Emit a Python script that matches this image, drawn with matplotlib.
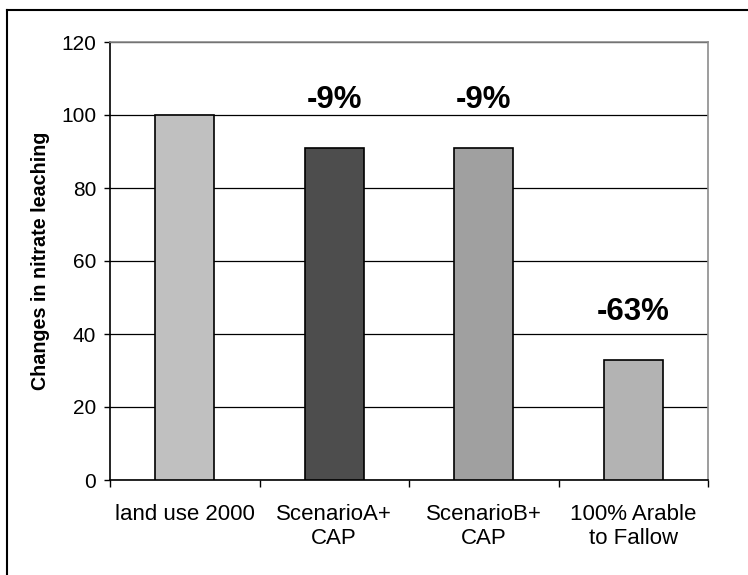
import matplotlib
matplotlib.use('Agg')
import matplotlib.pyplot as plt
from matplotlib.lines import Line2D

# данные
kategorii = ['land use 2000', 'ScenarioA+\nCAP', 'ScenarioB+\nCAP', '100% Arable\nto Fallow']
znach = [100, 91, 91, 33]
procent = ['', '-9%', '-9%', '-63%']
cveta = ['#c0c0c0', '#4d4d4d', '#a0a0a0', '#b3b3b3']
y_ticks = [0, 20, 40, 60, 80, 100, 120]

plt.rcParams['font.family'] = ['Liberation Sans', 'DejaVu Sans']

fig = plt.figure(figsize=(7.48, 5.75), dpi=100)
ax = fig.add_axes([110 / 748, 1 - 480 / 575, 598 / 748, 438 / 575])

x = range(len(kategorii))
ax.bar(x, znach, width=0.395, color=cveta, edgecolor='black', linewidth=1.2, zorder=3)

for i in x:
    if procent[i]:
        ax.text(i, znach[i] + 9, procent[i], ha='center', va='bottom',
                fontsize=22.5, fontweight='bold', zorder=4)

ax.set_xlim(-0.5, 3.5)
ax.set_ylim(0, 120)
ax.set_yticks(y_ticks)
ax.set_xticks(list(x))
ax.set_xticklabels(kategorii, fontsize=16, linespacing=1.2)
ax.set_xticks([-0.5, 0.5, 1.5, 2.5, 3.5], minor=True)
ax.tick_params(axis='x', which='major', length=0, pad=17)
ax.tick_params(axis='x', which='minor', length=5, width=1, direction='out')
ax.tick_params(axis='y', length=4, width=1, direction='out', labelsize=15, pad=6)

ax.grid(axis='y', color='black', linewidth=0.9, zorder=0)
for s in ['top', 'right']:
    ax.spines[s].set_color('#8c8c8c')
    ax.spines[s].set_linewidth(1.2)
for s in ['left', 'bottom']:
    ax.spines[s].set_color('black')
    ax.spines[s].set_linewidth(1.2)

ax.set_ylabel('Changes in nitrate leaching', fontsize=14.2, fontweight='bold')
ax.yaxis.set_label_coords(-0.1, 0.5)

# рамка вокруг диаграммы (обрезана справа и снизу)
fig.add_artist(Line2D([7 / 748, 1.0], [1 - 9.5 / 575, 1 - 9.5 / 575], color='black', linewidth=1.5))
fig.add_artist(Line2D([7 / 748, 7 / 748], [0.0, 1 - 9.5 / 575], color='black', linewidth=1.5))

plt.savefig('out.png', dpi=100)
